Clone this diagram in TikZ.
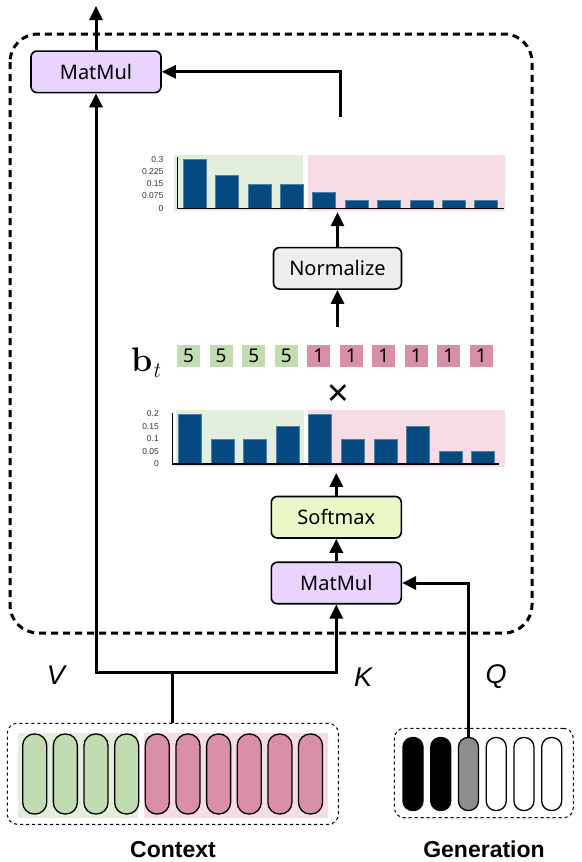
\documentclass[tikz,border=0pt]{standalone}
\usepackage{amsmath}
\usepackage{fontspec}
\setsansfont{Noto Sans}
\renewcommand{\familydefault}{\sfdefault}
\newfontfamily\chartfont{Liberation Sans}
\newfontfamily\btfont{Latin Modern Roman}
\usetikzlibrary{arrows.meta, positioning, shadows}
\definecolor{matmulfill}{HTML}{E8D4FE}
\definecolor{softfill}{HTML}{EAF7C7}
\definecolor{normfill}{HTML}{EEEEEE}
\definecolor{greenbg}{HTML}{E4EEDC}
\definecolor{pinkbg}{HTML}{F5DDE3}
\definecolor{greentok}{HTML}{C1DCB1}
\definecolor{pinktok}{HTML}{D98FA7}
\definecolor{barblue}{HTML}{054B81}
\definecolor{baredge}{HTML}{4F7FA8}
\definecolor{graytok}{HTML}{8E8E8E}
\tikzstyle{opbox} = [rectangle, rounded corners=6pt, minimum width=130pt, minimum height=41.5pt, text centered, draw=black, line width=1.6pt, font=\fontsize{20}{24}\selectfont]
\tikzstyle{matmul} = [opbox, fill=matmulfill]
\tikzstyle{softmax} = [opbox, fill=softfill]
\tikzstyle{normalize} = [opbox, fill=normfill, minimum width=128pt]
\tikzstyle{arrow} = [-{Triangle[width=13pt,length=14pt]}, line width=3pt]
\tikzstyle{wire} = [line width=3pt]
\tikzstyle{bgbox} = [rectangle, inner sep=0pt, draw=none]
\tikzstyle{weight} = [rectangle, minimum width=22.7pt, minimum height=22.3pt, inner sep=0pt, font=\fontsize{19}{22}\selectfont]
\tikzstyle{ylabel} = [anchor=east, inner sep=0pt, font=\chartfont\fontsize{8.5}{9}\selectfont, text=black!80]
\tikzstyle{tokbox} = [rectangle, rounded corners=10pt, draw=black, dashed, line width=1pt, fill=white, drop shadow={opacity=0.15, shadow xshift=1pt, shadow yshift=-2pt}]
\tikzstyle{ctxtok} = [rectangle, rounded corners=11.5pt, minimum width=24pt, minimum height=80pt, inner sep=0pt, draw=black, line width=1.3pt]
\tikzstyle{gentok} = [rectangle, rounded corners=9.5pt, minimum width=20pt, minimum height=73pt, inner sep=0pt, draw=black, line width=1.3pt]
\tikzstyle{qkv} = [font=\chartfont\itshape\fontsize{27}{30}\selectfont]
\tikzstyle{caption} = [anchor=base, inner sep=0pt, font=\chartfont\bfseries\fontsize{23}{26}\selectfont]

\begin{document}
\begin{tikzpicture}[x=1pt, y=-1pt]
\useasboundingbox (0,0) rectangle (581,862);
% attention block
\draw[line width=3pt, dash pattern=on 7pt off 5pt, rounded corners=28pt] (10,34) rectangle (532,633);
\node (mmtop) [matmul] at (96,71.8) {MatMul};
\node (mmlow) [matmul] at (336.3,583) {MatMul};
\node (soft) [softmax, above=22.7pt of mmlow] {Softmax};
\node (norm) [normalize] at (337.5,268.3) {Normalize};

% normalized scores
\node (normgreen) [bgbox, fill=greenbg, minimum width=128.7pt, minimum height=56pt] at (238.35,183) {};
\node (normpink) [bgbox, fill=pinkbg, minimum width=197pt, minimum height=56pt] at (406.5,183) {};
\foreach \v [count=\i] in {0.3,0.2,0.15,0.15,0.1,0.05,0.05,0.05,0.05,0.05}
  \filldraw[fill=barblue, draw=baredge, line width=0.5pt] ({183.3+32.35*(\i-1)},208.3) rectangle ++(23,{-163.3*\v});
\draw[line width=1.3pt] (177.7,157) -- (177.7,208.3) -- (504,208.3);
\foreach \v [count=\i] in {0,0.075,0.15,0.225,0.3}
  \node (ya\i) [ylabel] at (163.5,{208.3-163.3*\v}) {\v};

% budget weights
\node (bt) [anchor=base west, inner sep=0pt] at (131,371.7) {\btfont\fontsize{34}{36}\selectfont\bfseries b\raisebox{-6pt}{\fontsize{22}{22}\selectfont\mdseries\itshape t}};
\foreach \v/\c [count=\i] in {5/greentok,5/greentok,5/greentok,5/greentok,1/pinktok,1/pinktok,1/pinktok,1/pinktok,1/pinktok,1/pinktok}
  \node (w\i) [weight, fill=\c] at ({188.65+32.52*(\i-1)},356.15) {\v};
\node (times) [inner sep=0pt, font=\fontsize{38}{38}\selectfont] at (338.3,395.7) {×};

% attention scores
\node (attngreen) [bgbox, fill=greenbg, minimum width=128pt, minimum height=56.7pt] at (240,438.35) {};
\node (attnpink) [bgbox, fill=pinkbg, minimum width=196.7pt, minimum height=56.7pt] at (406.65,438.35) {};
\foreach \v [count=\i] in {0.2,0.1,0.1,0.15,0.2,0.1,0.1,0.15,0.05,0.05}
  \filldraw[fill=barblue, draw=baredge, line width=0.5pt] ({178.3+32.6*(\i-1)},464) rectangle ++(23,{-250*\v});
\draw[line width=1.3pt] (172.7,412.7) -- (172.7,464) -- (499,464);
\foreach \v [count=\i] in {0,0.05,0.1,0.15,0.2}
  \node (yb\i) [ylabel] at (159,{464-250*\v}) {\v};

% tokens
\node (ctx) [tokbox, minimum width=331pt, minimum height=101pt] at (172.8,773.8) {};
\node (ctxgreen) [bgbox, fill=greenbg, minimum width=120pt, minimum height=85pt] at (78.3,775.8) {};
\node (ctxpink) [bgbox, fill=pinkbg, minimum width=184.3pt, minimum height=85pt] at (236.15,775.8) {};
\foreach \c [count=\i] in {greentok,greentok,greentok,greentok,pinktok,pinktok,pinktok,pinktok,pinktok,pinktok}
  \node (c\i) [ctxtok, fill=\c] at ({34.7+30.65*(\i-1)},774) {};
\node (gen) [tokbox, minimum width=179pt, minimum height=89.4pt] at (483.8,773) {};
\foreach \c [count=\i] in {black,black,graytok,white,white,white}
  \node (g\i) [gentok, fill=\c] at ({413+27.74*(\i-1)},774) {};
\node (ctxlab) [caption] at (173,857.5) {Context};
\node (genlab) [caption] at (484,857.5) {Generation};
\node (vlab) [qkv] at (56,675) {V};
\node (klab) [qkv] at (363,677) {K};
\node (qlab) [qkv] at (496,677) {Q};

% connections
\coordinate (split) at (172.8,672.7);
\coordinate (normin) at (337.5,327);
\coordinate (mixout) at (340,117);
\coordinate (out) at (96,6);
\draw[wire] (ctx.north) -- (split);
\draw[arrow] (split) -| (mmtop.south);
\draw[arrow] (split) -| (mmlow.south);
\draw[arrow] (g3.north) |- (mmlow.east);
\draw[arrow] (mmlow) -- (soft);
\draw[arrow] (soft.north) -- ([yshift=-6pt]soft.north |- attnpink.south);
\draw[arrow] (normin) -- (norm);
\draw[arrow] (norm.north) -- ([yshift=-1pt]norm.north |- normpink.south);
\draw[arrow] (mixout) |- (mmtop.east);
\draw[arrow] (mmtop) -- (out);
\end{tikzpicture}
\end{document}
